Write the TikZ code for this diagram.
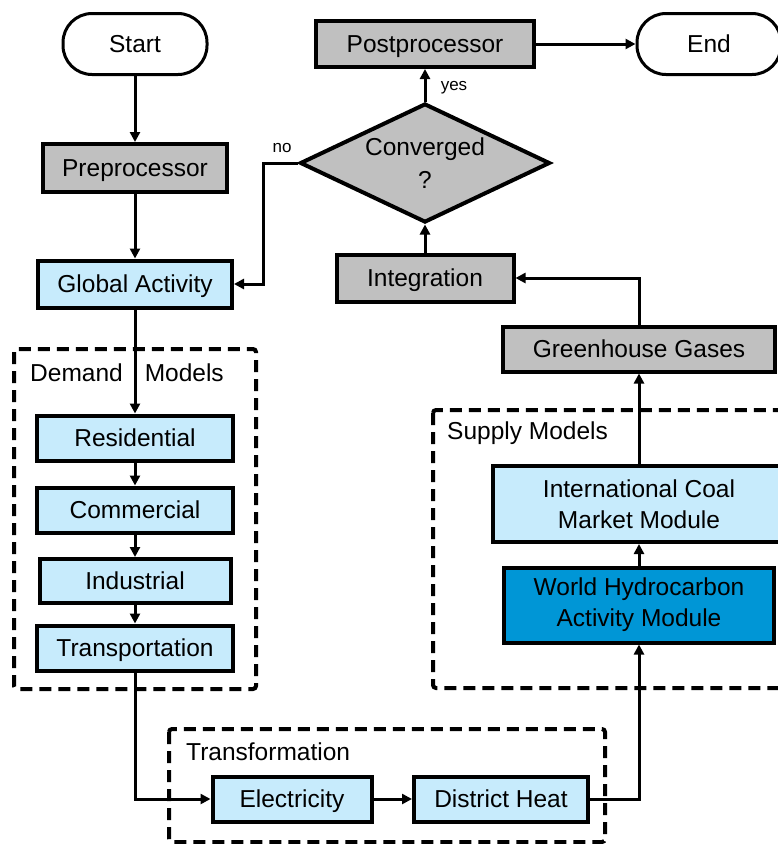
\documentclass[tikz,border=0pt]{standalone}
\usepackage{fontspec}
\setmainfont{Liberation Sans}
\usetikzlibrary{arrows.meta,shapes.geometric}
\definecolor{boxgrey}{RGB}{192,192,192}
\definecolor{paleblue}{RGB}{199,235,252}
\definecolor{deepblue}{RGB}{0,150,214}
\tikzset{
	block/.style={draw, line width=4pt, inner sep=0pt, align=center, font=\fontsize{24.5}{31}\selectfont, minimum height=46pt, text height=22pt, text depth=4.5pt},
	twoline/.style={text height={}, text depth={}},
	greyblock/.style={block, fill=boxgrey},
	blueblock/.style={block, fill=paleblue},
	terminal/.style={draw, line width=3pt, rounded corners=29pt, minimum width=144pt, minimum height=61pt, text height=22pt, text depth=4.5pt, font=\fontsize{24.5}{31}\selectfont},
	group/.style={line width=4pt, dash pattern=on 12pt off 7pt, rounded corners=3pt},
	grouplabel/.style={anchor=west, inner sep=0pt, font=\fontsize{24.5}{31}\selectfont},
	small/.style={inner sep=0pt, font=\fontsize{17}{20}\selectfont},
	flow/.style={line width=3pt, -{Triangle[length=10pt,width=10pt]}}
}

\begin{document}
\begin{tikzpicture}[x=1pt, y=-1pt]
			%%%%% START %%%%%
			
			\useasboundingbox (0, 0) rectangle (778, 844);
			\clip (0, 0) rectangle (778, 844);
			
			\draw[group] (14, 349) rectangle (256, 689);
			\node[grouplabel] (demandlabel) at (30, 373) {Demand\hspace{22pt}Models};
			
			\draw[group] (433, 410) rectangle (800, 688);
			\node[grouplabel] (supplylabel) at (447, 433) {Supply Models};
			
			\draw[group] (169, 729) rectangle (605, 842);
			\node[grouplabel] (translabel) at (186, 752) {Transformation};
			
			\node[terminal] (start) at (135, 44) {Start};
			\node[terminal] (end) at (709, 44) {End};
			
			\node[greyblock, minimum width=184pt, minimum height=48pt] (pre) at (135, 168) {Preprocessor};
			\node[blueblock, minimum width=194pt, minimum height=47pt] (global) at (135, 284) {Global Activity};
			
			\node[diamond, draw, line width=4pt, fill=boxgrey, inner sep=0pt, aspect=2.1, minimum width=250pt, minimum height=119pt, align=center, font=\fontsize{24.5}{33}\selectfont] (conv) at (425, 163) {Converged\\?};
			\node[greyblock, minimum width=218pt] (post) at (425, 44) {Postprocessor};
			\node[greyblock, minimum width=177pt, minimum height=47pt] (integ) at (425, 278) {Integration};
			
			\node[greyblock, minimum width=272pt, minimum height=45pt] (ghg) at (639, 349) {Greenhouse Gases};
			\node[blueblock, twoline, minimum width=292pt, minimum height=76pt] (coal) at (639, 504) {International Coal\\Market Module};
			\node[block, twoline, fill=deepblue, minimum width=270pt, minimum height=75pt] (whm) at (639, 605) {World Hydrocarbon\\Activity Module};
			
			\node[blueblock, minimum width=196pt, minimum height=45pt] (res) at (135, 438) {Residential};
			\node[blueblock, minimum width=196pt, minimum height=45pt] (com) at (135, 510) {Commercial};
			\node[blueblock, minimum width=191pt, minimum height=44pt] (ind) at (135, 581) {Industrial};
			\node[blueblock, minimum width=196pt, minimum height=45pt] (trans) at (135, 648) {Transportation};
			
			\node[blueblock, minimum width=159pt, minimum height=45pt] (elec) at (292, 799) {Electricity};
			\node[blueblock, minimum width=174pt, minimum height=45pt] (dheat) at (501, 799) {District Heat};
			
			\draw[flow] (start) -- (pre);
			\draw[flow] (pre) -- (global);
			\draw[flow] (conv.west) -- ++(-35, 0) |- (global.east);
			\node[small] (nolabel) at (282, 148) {no};
			\draw[flow] (conv.north) -- (post.south);
			\node[small] (yeslabel) at (454, 88) {yes};
			\draw[flow] (post.east) -- (end.west);
			\draw[flow] (integ.north) -- (conv.south);
			\draw[flow] (ghg.north) |- (integ.east);
			\draw[flow] (coal.north) -- (ghg.south);
			\draw[flow] (whm.north) -- (coal.south);
			\draw[flow] (dheat.east) -| (whm.south);
			
			\draw[flow] (global.south) -- (res.north);
			\draw[flow] (res) -- (com);
			\draw[flow] (com) -- (ind);
			\draw[flow] (ind) -- (trans);
			\draw[flow] (trans.south) |- (elec.west);
			\draw[flow] (elec) -- (dheat);
			
			%%%%% END %%%%%
\end{tikzpicture}
\end{document}
